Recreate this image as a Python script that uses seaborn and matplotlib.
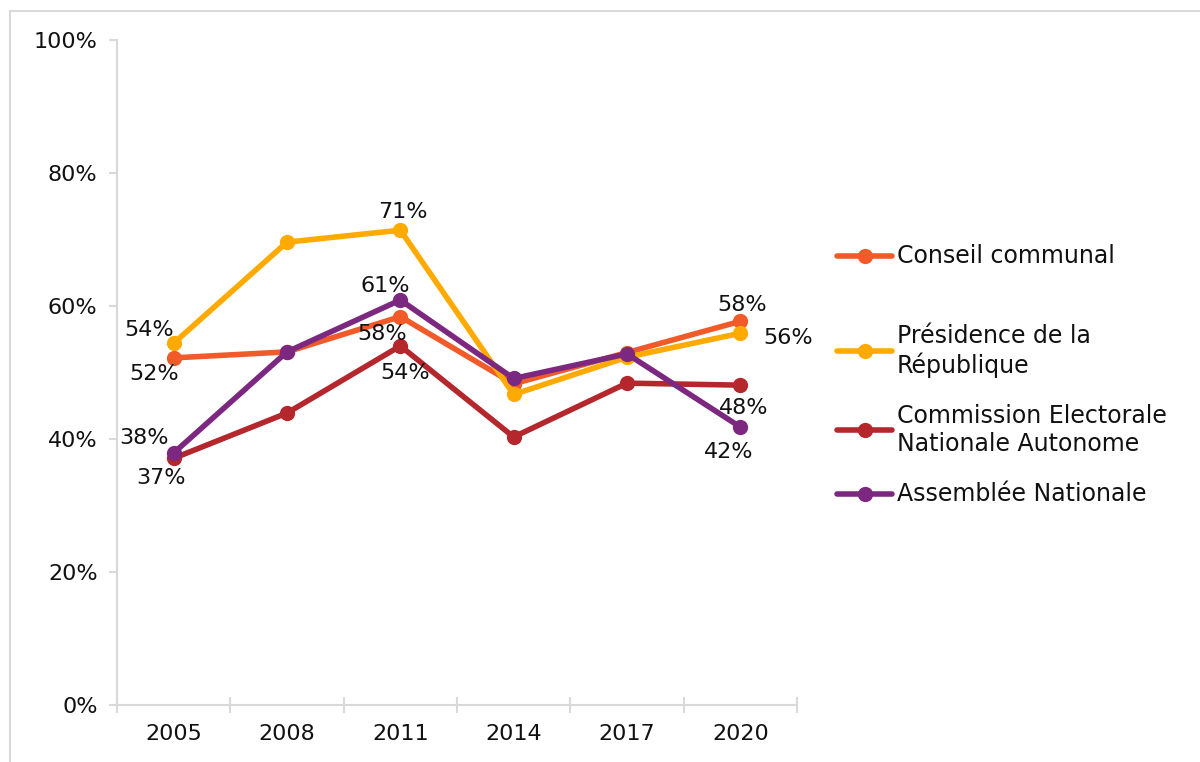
import pandas as pd
import matplotlib.pyplot as plt
import seaborn as sns
from matplotlib.lines import Line2D
from matplotlib.ticker import FuncFormatter, FixedLocator

years = ['2005', '2008', '2011', '2014', '2017', '2020']
conseil = [52.2, 53.1, 58.4, 48.3, 53.0, 57.7]
presidence = [54.4, 69.6, 71.4, 46.7, 52.3, 55.9]
commission = [37.1, 43.9, 54.0, 40.3, 48.4, 48.1]
assemblee = [37.9, 53.1, 60.9, 49.1, 52.8, 41.8]

series_names = ['Conseil communal', 'Présidence de la\nRépublique',
                'Commission Electorale\nNationale Autonome', 'Assemblée Nationale']
colors = ['#F15A29', '#FFAA00', '#B3272D', '#7D2880']

# which points get a value label, and where (offset in pixels)
label_offsets = {
    0: {0: (-20, -16), 2: (-18, -17), 5: (2, 16)},
    1: {0: (-25, 13), 2: (3, 18), 5: (48, -5)},
    2: {0: (-13, -20), 2: (5, -27), 5: (3, -23)},
    3: {0: (-30, 15), 2: (-15, 14), 5: (-12, -25)},
}

values = [conseil, presidence, commission, assemblee]
df = pd.DataFrame({
    'year': years * 4,
    'pct': conseil + presidence + commission + assemblee,
    'serie': [n for n in series_names for _ in years],
})

sns.set_style('white')
plt.rcParams['font.family'] = ['DejaVu Sans']
txt = '#111111'

fig = plt.figure(figsize=(12, 7.62), dpi=100)
ax = fig.add_axes([117 / 1200, 57 / 762, 680 / 1200, 665 / 762])

sns.lineplot(data=df, x='year', y='pct', hue='serie', palette=colors,
             marker='o', markersize=11, markeredgewidth=0, linewidth=4,
             sort=False, legend=False, ax=ax)

for i, vals in enumerate(values):
    for j, (dx, dy) in label_offsets[i].items():
        ax.annotate(f'{vals[j]:.0f}%', (j, vals[j]), xytext=(dx, dy),
                    textcoords='offset pixels', ha='center', va='center',
                    fontsize=16, color=txt)

grey = '#D9D9D9'
ax.set_xlim(-0.5, len(years) - 0.5)
ax.set_ylim(0, 100)
ax.set_yticks(range(0, 101, 20))
ax.yaxis.set_major_formatter(FuncFormatter(lambda v, p: f'{v:.0f}%'))
ax.set_xticks(range(len(years)))
ax.set_xticklabels(years)
ax.xaxis.set_minor_locator(FixedLocator([k - 0.5 for k in range(len(years) + 1)]))
ax.tick_params(axis='x', which='major', bottom=True, length=0, pad=14,
               labelsize=16, labelcolor=txt)
ax.tick_params(axis='x', which='minor', bottom=True, length=12, direction='inout',
               color=grey, width=1.5)
ax.tick_params(axis='y', which='major', left=True, length=6, direction='out',
               color=grey, width=1.5, pad=8, labelsize=16, labelcolor=txt)
ax.set_xlabel('')
ax.set_ylabel('')
for s in ['top', 'right']:
    ax.spines[s].set_visible(False)
for s in ['left', 'bottom']:
    ax.spines[s].set_color(grey)
    ax.spines[s].set_linewidth(1.5)

# legend on the right
leg_rows = [256, 351, 430, 494]
for name, c, ypx in zip(series_names, colors, leg_rows):
    yf = 1 - ypx / 762
    fig.add_artist(Line2D([837 / 1200, 892 / 1200], [yf, yf], color=c, lw=4,
                          transform=fig.transFigure))
    fig.add_artist(Line2D([864.5 / 1200], [yf], color=c, marker='o', markersize=11,
                          markeredgewidth=0, transform=fig.transFigure))
    fig.text(897 / 1200, yf, name, ha='left', va='center', fontsize=17,
             linespacing=1.2, color=txt)

# chart area border (left and top visible)
fig.add_artist(Line2D([10 / 1200, 10 / 1200], [0, 1 - 11 / 762], color=grey, lw=1.5,
                      transform=fig.transFigure))
fig.add_artist(Line2D([10 / 1200, 1], [1 - 11 / 762, 1 - 11 / 762], color=grey, lw=1.5,
                      transform=fig.transFigure))

fig.savefig('out.png', dpi=100)
